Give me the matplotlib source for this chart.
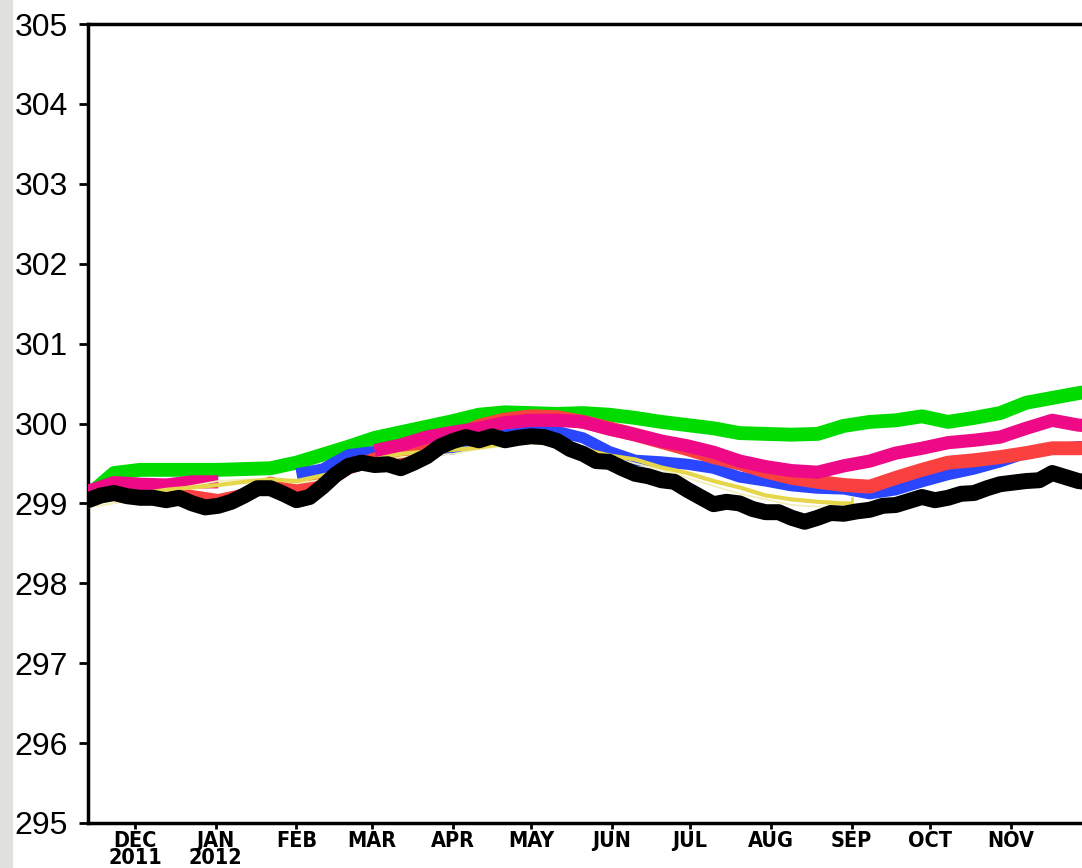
import matplotlib
matplotlib.use('Agg')
import matplotlib.pyplot as plt
from matplotlib import font_manager
from matplotlib.font_manager import FontProperties
from matplotlib.patches import Rectangle
import numpy as np
import pandas as pd

nan = np.nan

# common grids (10-day for the smooth curves, 5-day for the black one)
grid10 = pd.date_range('2011-11-13', periods=40, freq='10D')
grid5 = pd.date_range('2011-11-13', periods=78, freq='5D')

green_vals = [299.10, 299.38, 299.42, 299.42, 299.42, 299.42, 299.43, 299.44, 299.51, 299.61,
              299.71, 299.82, 299.89, 299.96, 300.03, 300.11, 300.14, 300.13, 300.12, 300.13,
              300.11, 300.07, 300.02, 299.98, 299.94, 299.88, 299.87, 299.86, 299.87, 299.97,
              300.02, 300.04, 300.09, 300.02, 300.07, 300.13, 300.26, 300.32, 300.38, 300.42]

pink_vals = [299.15, 299.26, 299.24, 299.23, 299.27, 299.27, nan, nan, nan, nan,
             nan, 299.66, 299.73, 299.83, 299.89, 299.94, 300.01, 300.04, 300.04, 300.02,
             299.93, 299.86, 299.78, 299.72, 299.64, 299.53, 299.46, 299.41, 299.39, 299.47,
             299.53, 299.63, 299.69, 299.76, 299.79, 299.83, 299.94, 300.04, 299.98, 299.96]

red_vals = [299.15, 299.16, 299.16, 299.13, 299.08, 299.03, 299.10, 299.25, 299.15, 299.25,
            299.45, 299.55, 299.62, 299.76, 299.82, 299.97, 300.05, 300.09, 300.08, 300.02,
            299.94, 299.86, 299.77, 299.68, 299.58, 299.50, 299.40, 299.32, 299.27, 299.23,
            299.21, 299.32, 299.42, 299.51, 299.54, 299.58, 299.63, 299.69, 299.69, 299.70]

blue_vals = [nan, nan, nan, nan, nan, nan, nan, nan, 299.37, 299.43,
             299.61, 299.65, 299.66, 299.66, 299.68, 299.78, 299.86, 299.90, 299.90, 299.82,
             299.65, 299.54, 299.52, 299.49, 299.44, 299.33, 299.28, 299.22, 299.19, 299.18,
             299.12, 299.17, 299.27, 299.36, 299.43, 299.52, 299.63, 299.68, 299.71, 299.72]

yellow_dates = list(grid10[:30]) + [pd.Timestamp('2012-09-01')]
yellow_vals = [299.00, 299.05, 299.12, 299.17, 299.20, 299.23, 299.27, 299.30, 299.28, 299.35,
               299.42, 299.55, 299.62, 299.65, 299.67, 299.70, 299.75, 299.78, 299.75, 299.68,
               299.60, 299.55, 299.45, 299.38, 299.28, 299.20, 299.10, 299.05, 299.02, 299.00,
               299.00]
pale_vals = [298.95, 299.00, 299.08, 299.15, 299.22, 299.28, 299.30, 299.30, 299.25, 299.30,
             299.40, 299.50, 299.58, 299.60, 299.62, 299.68, 299.72, 299.75, 299.72, 299.65,
             299.58, 299.50, 299.42, 299.32, 299.22, 299.12, 299.05, 298.98, 298.96, 298.95,
             298.95]

black_vals = [299.04, 299.10, 299.13, 299.09, 299.07, 299.07, 299.04, 299.07, 299.00, 298.95,
              298.97, 299.02, 299.10, 299.19, 299.19, 299.12, 299.04, 299.08, 299.21, 299.36,
              299.47, 299.51, 299.48, 299.49, 299.44, 299.51, 299.59, 299.71, 299.78, 299.83,
              299.79, 299.84, 299.79, 299.82, 299.84, 299.83, 299.78, 299.68, 299.62, 299.53,
              299.52, 299.44, 299.37, 299.34, 299.29, 299.27, 299.17, 299.08, 298.99, 299.02,
              299.00, 298.93, 298.89, 298.89, 298.82, 298.77, 298.82, 298.88, 298.87, 298.90,
              298.92, 298.97, 298.98, 299.03, 299.08, 299.04, 299.07, 299.12, 299.13, 299.19,
              299.24, 299.26, 299.28, 299.29, 299.38, 299.33, 299.28, 299.26]

month_ticks = pd.date_range('2011-12-01', '2012-11-01', freq='MS')
month_labels = ['DEC\n2011', 'JAN\n2012', 'FEB', 'MAR', 'APR', 'MAY', 'JUN',
                'JUL', 'AUG', 'SEP', 'OCT', 'NOV']
y_ticks = [295, 296, 297, 298, 299, 300, 301, 302, 303, 304, 305]

# narrow bold face for the month labels, if one is around
xlab_fp = None
for pat in ['LiberationSansNarrow-Bold.', 'DejaVuSansCondensed-Bold.',
            'RobotoCondensed-Bold.', 'OpenSans_Condensed-Bold.', 'OpenSansCondensed-Bold.']:
    hits = [f.fname for f in font_manager.fontManager.ttflist if pat in f.fname]
    if hits:
        xlab_fp = FontProperties(fname=hits[0], size=15.5)
        break
if xlab_fp is None:
    xlab_fp = FontProperties(family='DejaVu Sans', weight='bold', size=12)

W, H = 1082, 868
fig = plt.figure(figsize=(W / 100, H / 100), dpi=100)
fig.patches.append(Rectangle((0, 0), 12 / W, 1, transform=fig.transFigure,
                             color='#e0e0dc', zorder=0))

# axes runs past the right edge of the picture
ax = fig.add_axes([88 / W, 45 / H, 1032 / W, 799 / H])
ax.set_xlim(pd.Timestamp('2011-11-13'), pd.Timestamp('2012-12-13'))
ax.set_ylim(295, 305)

ax.plot(grid10, green_vals, color='#00dc00', lw=10, solid_capstyle='butt', zorder=2)
ax.plot(grid10, blue_vals, color='#2a46ff', lw=8, solid_capstyle='butt', zorder=3)
ax.plot(grid10, red_vals, color='#fb4040', lw=10, solid_capstyle='butt', zorder=4)
ax.plot(grid10, pink_vals, color='#ee0a87', lw=9.5, solid_capstyle='butt', zorder=5)
ax.plot(yellow_dates, pale_vals, color='#f2eeb8', lw=1.3, zorder=6)
ax.plot(yellow_dates, yellow_vals, color='#e6d64a', lw=3.0, zorder=6,
        marker='|', markevery=[-1], ms=8, mew=2)
ax.plot(grid5, black_vals, color='black', lw=11.5, solid_capstyle='round', zorder=7)

for s in ['left', 'bottom', 'top']:
    ax.spines[s].set_linewidth(2.5)
ax.spines['right'].set_visible(False)

ax.set_yticks(y_ticks)
ax.set_yticklabels([str(v) for v in y_ticks], family=['Liberation Sans', 'DejaVu Sans'],
                   fontsize=23)
ax.tick_params(axis='y', direction='out', length=6.5, width=2, pad=8)

ax.set_xticks(month_ticks)
ax.set_xticklabels(month_labels, fontproperties=xlab_fp, linespacing=0.78)
ax.tick_params(axis='x', direction='out', length=4, width=2, pad=2)

fig.savefig('out.png', dpi=100)
